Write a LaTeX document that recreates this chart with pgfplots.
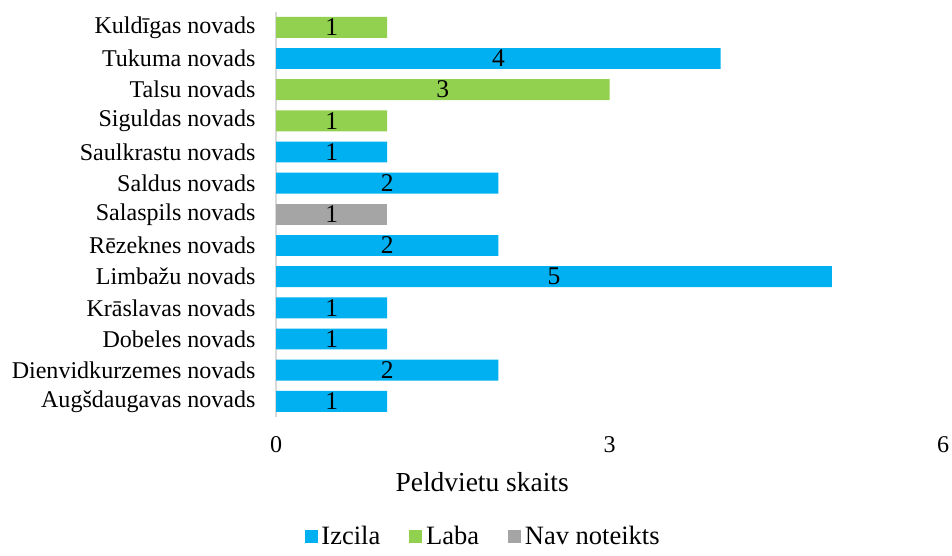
\documentclass[border=0pt]{standalone}
\usepackage{pgfplots}
\pgfplotsset{compat=1.18}
\usepackage{fontspec}
\setmainfont{Liberation Serif}
\definecolor{izcila}{HTML}{00B0F0}
\definecolor{laba}{HTML}{92D050}
\definecolor{nav}{HTML}{A5A5A5}
\begin{document}
\fontsize{12}{14}\selectfont
\begin{tikzpicture}
\begin{axis}[
    x=1.99cm, y=0.558cm,
    xmin=0, xmax=6, ymin=-0.5, ymax=12.5,
    xbar, bar width=0.375cm, bar shift=0pt,
    xtick={0,3,6},
    ytick={0,...,12},
    yticklabels={Augšdaugavas novads, Dienvidkurzemes novads, Dobeles novads, Krāslavas novads, Limbažu novads, Rēzeknes novads, Salaspils novads, Saldus novads, Saulkrastu novads, Siguldas novads, Talsu novads, Tukuma novads, Kuldīgas novads},
    major tick length=0pt,
    separate axis lines,
    axis x line*=bottom, x axis line style={draw=none},
    axis y line*=left, y axis line style={draw=black!15, line width=0.9pt},
    xticklabel style={yshift=-0.2cm, inner xsep=0pt},
    yticklabel style={xshift=-0.22cm},
    /pgf/number format/assume math mode=true,
    tick label style={font=\fontsize{12.25}{14}\selectfont},
    xlabel={Peldvietu skaits},
    xlabel style={at={(axis description cs:0.309,-0.16)}, anchor=center, font=\fontsize{14}{16}\selectfont},
    point meta=x,
    nodes near coords,
    visualization depends on={rawx \as \rawx},
    every node near coord/.append style={anchor=center, xshift=-\rawx*0.995cm, font=\fontsize{13}{15}\selectfont, black},
    legend columns=3,
    legend style={draw=none, at={(axis description cs:0.312,-0.296)}, anchor=center, font=\fontsize{13.5}{15}\selectfont, /tikz/every even column/.append style={column sep=0.45cm}},
    legend image code/.code={\fill[#1] (0cm,-0.115cm) rectangle (0.23cm,0.115cm);},
]
\addplot[draw=none, fill=izcila] coordinates {
    (1,0) (2,1) (1,2) (1,3) (5,4) (2,5) (2,7) (1,8) (4,11)
};
\addlegendentry{Izcila}
\addplot[draw=none, fill=laba] coordinates {
    (1,9) (3,10) (1,12)
};
\addlegendentry{Laba}
\addplot[draw=none, fill=nav] coordinates {
    (1,6)
};
\addlegendentry{Nav noteikts}
\coordinate (tr) at (axis cs:6,12.5);
\end{axis}
\path ([xshift=-0.07cm]current bounding box.west);
\path ([xshift=0.16cm,yshift=0.21cm]tr);
\end{tikzpicture}
\end{document}
